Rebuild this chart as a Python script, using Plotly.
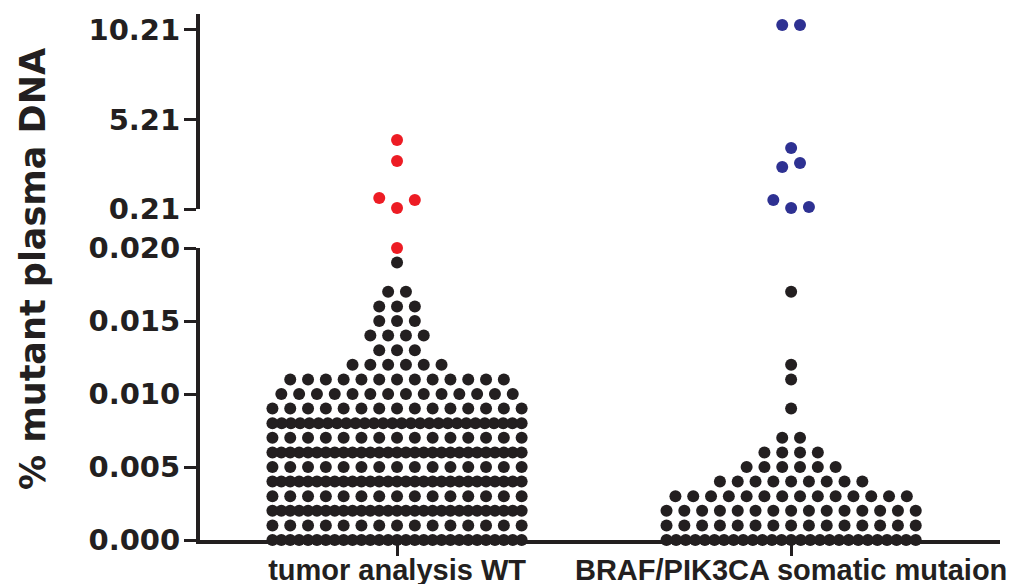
import numpy as np
import plotly.graph_objects as go

# ---------------- data ----------------
categories = ["tumor analysis WT", "BRAF/PIK3CA somatic mutaion"]

# tumor analysis WT: low values (black) as level + number of samples at that level
wt_levels = [0.000, 0.001, 0.002, 0.003, 0.004, 0.005, 0.006, 0.007, 0.008, 0.009,
             0.010, 0.011, 0.012, 0.013, 0.014, 0.015, 0.016, 0.017, 0.019]
wt_counts = [29, 15, 29, 15, 29, 15, 29, 15, 28, 15,
             14, 13, 6, 3, 4, 3, 3, 2, 1]
# tumor analysis WT: positive samples (red)
wt_high = [0.020, 0.27, 0.71, 0.82, 2.89, 4.06]

# BRAF/PIK3CA somatic mutation: low values (black)
mut_levels = [0.000, 0.001, 0.002, 0.003, 0.004, 0.005, 0.006, 0.007, 0.009, 0.011, 0.012, 0.017]
mut_counts = [27, 15, 15, 14, 9, 6, 4, 2, 1, 1, 1, 1]
# BRAF/PIK3CA somatic mutation: positive samples (blue)
mut_high = [0.26, 0.32, 0.71, 2.56, 2.78, 3.62, 10.49, 10.49]

low_ticks = [0.000, 0.005, 0.010, 0.015, 0.020]
high_ticks = [0.21, 5.21, 10.21]

# ---------------- geometry / style ----------------
W, H = 1023, 584
OFF = 8                      # page body margin of the html page
PLOT_L, PLOT_T, PLOT_W, PLOT_H = 200, 14, 800, 526   # wanted plot box on the page
ML, MT = PLOT_L - OFF, PLOT_T - OFF
MR, MB = W - ML - PLOT_W, H - MT - PLOT_H
PW, PH = PLOT_W, PLOT_H
LOW_RANGE = [0.0, 0.020]
HIGH_RANGE = [0.21, 11.10]
LOW_DOM = [0.0, 292 / PH]
HIGH_DOM = [331 / PH, 1.0]
X_RANGE = [-0.5, 1.53]

INK = "#231f20"
RED = "#ed1c24"
BLUE = "#2e3192"
DOT = 12
SLOT_PX = 17.8
MAX_HALF_PX = 7 * SLOT_PX

px_per_x = PW / (X_RANGE[1] - X_RANGE[0])
low_px = (LOW_DOM[1] - LOW_DOM[0]) * PH / (LOW_RANGE[1] - LOW_RANGE[0])
high_px = (HIGH_DOM[1] - HIGH_DOM[0]) * PH / (HIGH_RANGE[1] - HIGH_RANGE[0])


def to_px(v):
    if v <= LOW_RANGE[1]:
        return v * low_px
    return HIGH_DOM[0] * PH + (v - HIGH_RANGE[0]) * high_px


def swarm(points):
    """points: list of (value, color). returns list of (value, color, x_offset_px)."""
    pts = sorted(points, key=lambda p: p[0])
    clusters, cur = [], [pts[0]]
    for p in pts[1:]:
        if to_px(p[0]) - to_px(cur[-1][0]) < DOT:
            cur.append(p)
        else:
            clusters.append(cur)
            cur = [p]
    clusters.append(cur)
    out = []
    for c in clusters:
        n = len(c)
        step = SLOT_PX if n == 1 else min(SLOT_PX, 2 * MAX_HALF_PX / (n - 1))
        pos = [(k - (n - 1) / 2) * step for k in range(n)]
        if n % 2:
            pos.sort(key=lambda q: (round(abs(q), 6), q < 0))
        else:
            pos.sort(key=lambda q: (round(abs(q), 6), q > 0))
        for p, o in zip(c, pos):
            out.append((p[0], p[1], o))
    return out


groups = [
    (wt_levels, wt_counts, wt_high, RED),
    (mut_levels, mut_counts, mut_high, BLUE),
]

fig = go.Figure()
for gi, (levels, counts, high, hcol) in enumerate(groups):
    pts = []
    for lv, n in zip(levels, counts):
        pts += [(lv, INK)] * n
    pts += [(v, hcol) for v in high]
    placed = swarm(pts)
    for col in (INK, hcol):
        for seg, yref in (("low", "y"), ("high", "y2")):
            sel = [p for p in placed if p[1] == col and ((p[0] <= LOW_RANGE[1]) == (seg == "low"))]
            if not sel:
                continue
            fig.add_trace(go.Scatter(
                x=[gi + p[2] / px_per_x for p in sel],
                y=[p[0] for p in sel],
                mode="markers",
                marker=dict(size=DOT, color=col, line=dict(width=0)),
                cliponaxis=False,
                showlegend=False,
                hoverinfo="y",
                yaxis=yref,
            ))

tick_font = dict(family="DejaVu Sans", size=29, color=INK, weight="bold")
axis_common = dict(
    showline=True, linecolor=INK, linewidth=4,
    ticks="outside", ticklen=12, tickwidth=3, tickcolor=INK,
    showgrid=False, zeroline=False, tickfont=tick_font,
    ticklabelstandoff=-2, automargin=False,
)

title_x_page, title_y_page = 33, 269

fig.update_layout(
    width=W, height=H,
    margin=dict(l=ML, r=MR, t=MT, b=MB, autoexpand=False),
    paper_bgcolor="white", plot_bgcolor="white",
    xaxis=dict(
        range=X_RANGE, tickmode="array", tickvals=[0, 1], ticktext=categories,
        showline=True, linecolor=INK, linewidth=4,
        ticks="outside", ticklen=12, tickwidth=3, tickcolor=INK,
        showgrid=False, zeroline=False, anchor="y", automargin=False,
        ticklabelstandoff=-11,
        tickfont=dict(family="Liberation Sans", size=29, color=INK, weight="bold"),
    ),
    yaxis=dict(
        domain=LOW_DOM, range=LOW_RANGE, tickmode="array", tickvals=low_ticks,
        ticktext=[f"{t:.3f}" for t in low_ticks], anchor="x", **axis_common,
    ),
    yaxis2=dict(
        domain=HIGH_DOM, range=HIGH_RANGE, tickmode="array", tickvals=high_ticks,
        ticktext=[f"{t:.2f}" for t in high_ticks], anchor="x", **axis_common,
    ),
    annotations=[dict(
        text="% mutant plasma DNA", textangle=-90,
        xref="paper", yref="paper",
        x=(title_x_page - PLOT_L) / PW, y=(PLOT_T + PLOT_H - title_y_page) / PH,
        xanchor="center", yanchor="middle", showarrow=False,
        font=dict(family="DejaVu Sans", size=35, color=INK, weight="bold"),
    )],
)

fig.write_html("out.html")
